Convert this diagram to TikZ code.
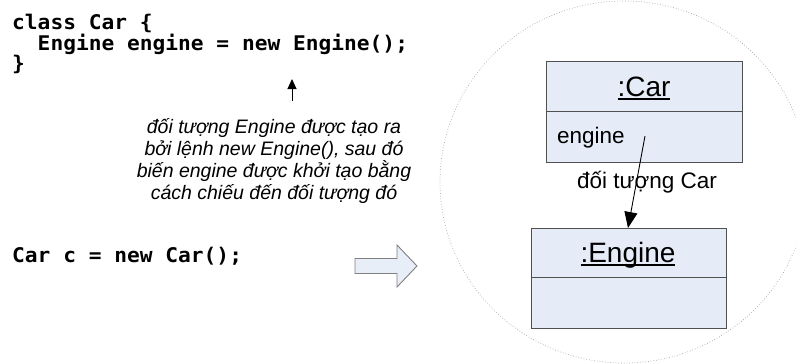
\documentclass[tikz,border=0pt]{standalone}
\usepackage{fontspec}
\setmainfont{Liberation Sans}
\newfontfamily\codefont{DejaVu Sans Mono}[FakeStretch=1.05]
\usetikzlibrary{arrows.meta}
\definecolor{boxfill}{RGB}{230,236,247}
\definecolor{boxline}{RGB}{80,80,80}
\definecolor{arrfill}{RGB}{232,238,248}
\newcommand\myul[1]{\setbox0\hbox{#1}\rlap{\vrule height -2.4pt depth 3.9pt width \wd0}\box0}
\begin{document}
\begin{tikzpicture}[x=1pt,y=-1pt,
  code/.style={anchor=base west,inner sep=0pt,font=\codefont\bfseries\fontsize{20.2}{22}\selectfont},
  note/.style={anchor=base,inner sep=0pt,font=\itshape\fontsize{19.5}{22}\selectfont},
  umlpart/.style={draw=boxline,line width=1.2pt,fill=boxfill,inner sep=0pt},
  title/.style={anchor=base,inner sep=0pt,font=\fontsize{28}{30}\selectfont},
  attr/.style={anchor=base west,inner sep=0pt,font=\fontsize{22.5}{24}\selectfont},
  lbl/.style={anchor=base,inner sep=0pt,font=\fontsize{22.5}{24}\selectfont}]
\useasboundingbox (0,0) rectangle (796,364);
% object circle
\draw[gray!70,line width=0.7pt,dotted] (624,182) ellipse [x radius=184, y radius=181];
% code
\node[code] (c1) at (12,29) {class Car \{};
\node[code] (c2) at (12,50) {\ \ Engine engine = new Engine();};
\node[code] (c3) at (12,70) {\}};
\node[code] (c4) at (12,262) {Car c = new Car();};
% note
\node[note] (n1) at (274,133) {đối tượng Engine được tạo ra};
\node[note] (n2) at (274,155) {bởi lệnh new Engine(), sau đó};
\node[note] (n3) at (274,177) {biến engine được khởi tạo bằng};
\node[note] (n4) at (274,199) {cách chiếu đến đối tượng đó};
\coordinate (ntail) at (292,101);
\coordinate (nhead) at (292,79);
\draw[line width=1pt,-{Triangle[length=10pt,width=9pt]}] (ntail) -- (nhead);
% hollow arrow
\draw[draw=gray,line width=0.9pt,fill=arrfill] (355,258.5) -- (397,258.5) -- (397,245) -- (417,266) -- (397,287) -- (397,273.5) -- (355,273.5) -- cycle;
% Car object
\node[umlpart,minimum width=196,minimum height=50,anchor=north west] (carH) at (546,61) {};
\node[umlpart,minimum width=196,minimum height=51,anchor=north west] (carB) at (546,111) {};
\node[title] (carT) at (644,96) {\myul{:Car}};
\node[attr] (carA) at (557,143) {engine};
% Engine object
\node[umlpart,minimum width=195,minimum height=49,anchor=north west] (engH) at (531,228) {};
\node[umlpart,minimum width=195,minimum height=51,anchor=north west] (engB) at (531,277) {};
\node[title] (engT) at (628,262) {\myul{:Engine}};
% link
\node[lbl] (lnk) at (647,188) {đối tượng Car};
\coordinate (ref) at (645,136);
\draw[line width=0.9pt,-{Triangle[length=16pt,width=13pt]}] (ref) -- (engH.north -| 628,0);
\end{tikzpicture}
\end{document}
